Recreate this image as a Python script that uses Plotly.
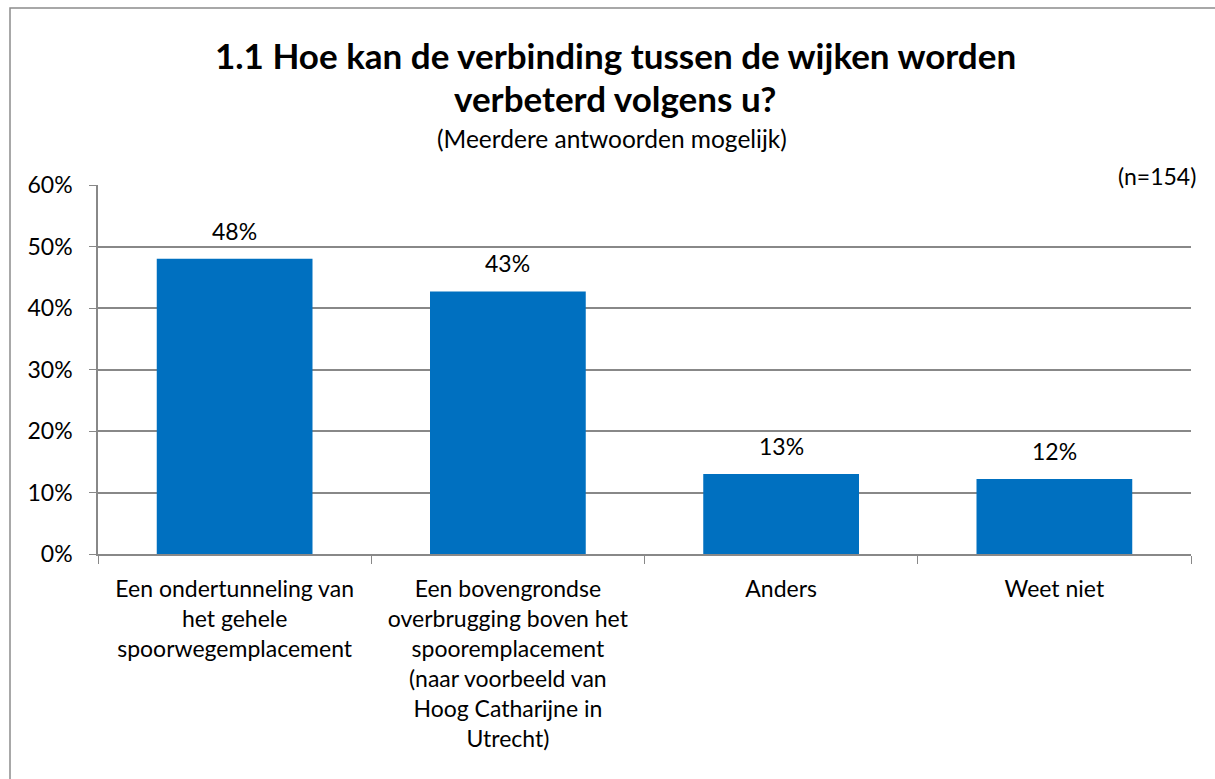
import plotly.graph_objects as go

categories = [
    "Een ondertunneling van het gehele spoorwegemplacement",
    "Een bovengrondse overbrugging boven het spooremplacement (naar voorbeeld van Hoog Catharijne in Utrecht)",
    "Anders",
    "Weet niet",
]
tick_labels = [
    "Een ondertunneling van<br>het gehele<br>spoorwegemplacement",
    "Een bovengrondse<br>overbrugging boven het<br>spooremplacement<br>(naar voorbeeld van<br>Hoog Catharijne in<br>Utrecht)",
    "Anders",
    "Weet niet",
]
values = [0.48, 0.427, 0.13, 0.122]
value_labels = ["48%", "43%", "13%", "12%"]

FONT = "Lato"
GRID = "#888888"

# plot area in pixels
L, R, T, B = 98, 1191, 185, 554
W, H = R - L, B - T


def px(x):
    return (x - L) / W


def py(y):
    return (B - y) / H


fig = go.Figure(go.Bar(
    x=categories, y=values, width=0.57,
    marker=dict(color="#0070C0", line=dict(width=0)),
    hoverinfo="skip",
))

value_annotations = [
    dict(x=c, y=v, text=t, xref="x", yref="y", xanchor="center", yanchor="bottom",
         yshift=12, showarrow=False, font=dict(family=FONT, size=23, color="#000000"))
    for c, v, t in zip(categories, values, value_labels)
]

fig.update_layout(
    width=1215, height=779,
    margin=dict(l=L, r=1215 - R, t=T, b=779 - B),
    paper_bgcolor="white", plot_bgcolor="white",
    showlegend=False,
    font=dict(family=FONT, size=23, color="#000000"),
    xaxis=dict(
        tickvals=categories, ticktext=tick_labels,
        tickson="boundaries", ticks="outside", ticklen=8, tickcolor=GRID,
        showline=True, linecolor=GRID, linewidth=1.5,
        showgrid=False, tickangle=0, ticklabelstandoff=14,
        tickfont=dict(family=FONT, size=23, color="#000000"),
    ),
    yaxis=dict(
        range=[0, 0.6], dtick=0.1, tickformat=".0%",
        showgrid=True, gridcolor=GRID, gridwidth=1.5,
        ticks="outside", ticklen=7, tickcolor=GRID,
        showline=True, linecolor=GRID, linewidth=1.5,
        zeroline=False, ticklabelstandoff=12,
        tickfont=dict(family=FONT, size=23, color="#000000"),
    ),
    shapes=[dict(type="rect", xref="paper", yref="paper",
                 x0=px(10), x1=px(1230), y0=py(795), y1=py(8),
                 line=dict(color="#8c8c8c", width=1.5), layer="below")],
    annotations=value_annotations + [
        dict(text="<b>1.1 Hoe kan de verbinding tussen de wijken worden</b>",
             xref="paper", yref="paper", x=px(615), y=py(55),
             xanchor="center", yanchor="middle", showarrow=False,
             font=dict(family=FONT, size=35, color="#000000")),
        dict(text="<b>verbeterd volgens u?</b>",
             xref="paper", yref="paper", x=px(615), y=py(98),
             xanchor="center", yanchor="middle", showarrow=False,
             font=dict(family=FONT, size=35, color="#000000")),
        dict(text="(Meerdere antwoorden mogelijk)",
             xref="paper", yref="paper", x=px(612), y=py(138),
             xanchor="center", yanchor="middle", showarrow=False,
             font=dict(family=FONT, size=24.5, color="#000000")),
        dict(text="(n=154)",
             xref="paper", yref="paper", x=px(1157), y=py(176),
             xanchor="center", yanchor="middle", showarrow=False,
             font=dict(family=FONT, size=23, color="#000000")),
    ],
)

fig.write_html("out.html", config={"displayModeBar": False},
               post_script="document.body.style.margin='0px';")
